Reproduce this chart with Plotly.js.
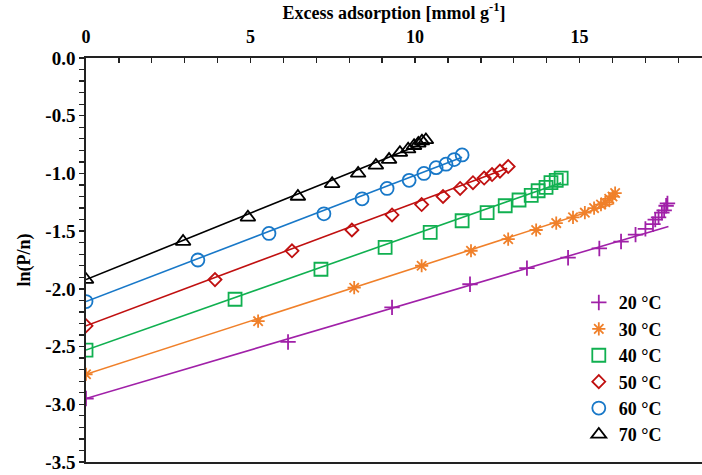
<!DOCTYPE html>
<html>
<head>
<meta charset="utf-8">
<script src="https://cdn.plot.ly/plotly-3.0.1.min.js"></script>
<style>
html,body{margin:0;padding:0;background:#fff;}
#chart{width:702px;height:475px;}
</style>
</head>
<body>
<div id="chart"></div>
<script>
// ---- data ----
const seriesNames = ["20 °C", "30 °C", "40 °C", "50 °C", "60 °C", "70 °C"];

const x20 = [0, 6.14, 9.3, 11.67, 13.4, 14.65, 15.6, 16.26, 16.7, 17.0, 17.23, 17.3, 17.4, 17.5, 17.57, 17.63, 17.67];
const y20 = [-2.95, -2.46, -2.16, -1.96, -1.82, -1.73, -1.65, -1.59, -1.53, -1.48, -1.44, -1.40, -1.38, -1.34, -1.32, -1.28, -1.26];

const x30 = [0, 5.23, 8.15, 10.2, 11.7, 12.83, 13.68, 14.29, 14.8, 15.16, 15.44, 15.65, 15.78, 15.9, 16.0, 16.08];
const y30 = [-2.74, -2.28, -1.99, -1.80, -1.67, -1.57, -1.49, -1.43, -1.38, -1.34, -1.30, -1.27, -1.25, -1.22, -1.20, -1.17];

const x40 = [0, 4.53, 7.14, 9.09, 10.46, 11.43, 12.19, 12.74, 13.16, 13.53, 13.74, 13.98, 14.13, 14.29, 14.44];
const y40 = [-2.53, -2.09, -1.83, -1.64, -1.51, -1.41, -1.34, -1.28, -1.23, -1.19, -1.15, -1.12, -1.08, -1.06, -1.04];

const x50 = [0, 3.92, 6.26, 8.08, 9.3, 10.2, 10.85, 11.37, 11.76, 12.1, 12.34, 12.58, 12.83];
const y50 = [-2.32, -1.92, -1.67, -1.49, -1.36, -1.27, -1.20, -1.13, -1.08, -1.04, -1.01, -0.98, -0.94];

const x60 = [0, 3.4, 5.56, 7.23, 8.39, 9.15, 9.82, 10.27, 10.64, 10.94, 11.19, 11.43];
const y60 = [-2.11, -1.75, -1.52, -1.35, -1.22, -1.13, -1.06, -1.00, -0.95, -0.92, -0.88, -0.84];

const x70 = [0, 2.95, 4.92, 6.44, 7.48, 8.27, 8.81, 9.21, 9.54, 9.79, 9.97, 10.1, 10.21, 10.33];
const y70 = [-1.92, -1.59, -1.38, -1.20, -1.09, -1.00, -0.93, -0.88, -0.82, -0.79, -0.76, -0.74, -0.72, -0.71];

// fitted straight lines (end points)
const fitX20 = [0, 17.7],  fitY20 = [-2.95, -1.46];
const fitX30 = [0, 16.05], fitY30 = [-2.74, -1.26];
const fitX40 = [0, 14.44], fitY40 = [-2.53, -1.08];
const fitX50 = [0, 12.8],  fitY50 = [-2.32, -0.955];
const fitX60 = [0, 11.43], fitY60 = [-2.11, -0.86];
const fitX70 = [0, 10.33], fitY70 = [-1.92, -0.73];

const xTickVals = [0, 5, 10, 15];
const xTickText = ["0", "5", "10", "15"];
const yTickVals = [0, -0.5, -1, -1.5, -2, -2.5, -3, -3.5];
const yTickText = ["0.0", "-0.5", "-1.0", "-1.5", "-2.0", "-2.5", "-3.0", "-3.5"];

// ---- styling ----
const colors = ["#a020a8", "#f0802a", "#10b050", "#c01010", "#1878c8", "#000000"];
const symbols = ["cross-thin-open", "asterisk-open", "square-open", "diamond-open", "circle-open", "triangle-up-open"];
const sizes = [11, 11, 13, 10, 13, 13];

const xs = [x20, x30, x40, x50, x60, x70];
const ys = [y20, y30, y40, y50, y60, y70];
const fxs = [fitX20, fitX30, fitX40, fitX50, fitX60, fitX70];
const fys = [fitY20, fitY30, fitY40, fitY50, fitY60, fitY70];

const serif = "Liberation Serif, Times New Roman, serif";
const traces = [];
for (let i = 0; i < 6; i++) {
  traces.push({
    x: fxs[i], y: fys[i], mode: "lines", type: "scatter",
    line: {color: colors[i], width: 1.6}, showlegend: false, hoverinfo: "skip"
  });
}
for (let i = 0; i < 6; i++) {
  traces.push({
    x: xs[i], y: ys[i], mode: "markers", type: "scatter", name: seriesNames[i],
    legendgroup: "g" + i,
    marker: {symbol: symbols[i], size: sizes[i], color: colors[i], line: {width: 1.8, color: colors[i]}}
  });
}

const layout = {
  width: 702, height: 475,
  margin: {l: 86, r: 0, t: 58, b: 13, pad: 0},
  paper_bgcolor: "#fff", plot_bgcolor: "#fff",
  font: {family: serif, size: 17, color: "#000"},
  showlegend: true,
  legend: {
    x: 0.80, y: 0.44, xanchor: "left", yanchor: "top",
    font: {family: serif, size: 18, color: "#000", weight: "bold"},
    bgcolor: "rgba(0,0,0,0)", traceorder: "grouped", tracegroupgap: 0,
    itemwidth: 30
  },
  xaxis: {
    side: "top", range: [0, 18.72], showgrid: false, zeroline: false,
    showline: true, linecolor: "#222", linewidth: 1.8, mirror: true,
    ticks: "inside", ticklen: 5, tickwidth: 1.3, tickcolor: "#222",
    tickvals: xTickVals, ticktext: xTickText, ticklabelstandoff: 6,
    minor: {dtick: 1, ticks: "inside", ticklen: 5, tickwidth: 1.3, tickcolor: "#222"},
    tickfont: {family: serif, size: 18, weight: "bold", color: "#000"},
    title: {text: "Excess adsorption [mmol g<sup>-1</sup>]", standoff: 4,
            font: {family: serif, size: 18, weight: "bold", color: "#000"}}
  },
  yaxis: {
    range: [-3.5, 0], showgrid: false, zeroline: false,
    showline: true, linecolor: "#222", linewidth: 1.8,
    ticks: "outside", ticklen: 5, tickwidth: 1.3, tickcolor: "#222",
    tickvals: yTickVals, ticktext: yTickText,
    minor: {dtick: 0.1, ticks: "outside", ticklen: 5, tickwidth: 1.3, tickcolor: "#222"},
    tickfont: {family: serif, size: 19, weight: "bold", color: "#000"},
    title: {text: "ln(P/n)", standoff: 10,
            font: {family: serif, size: 18, weight: "bold", color: "#000"}}
  }
};

Plotly.newPlot("chart", traces, layout, {displayModeBar: false, staticPlot: true});
</script>
</body>
</html>
